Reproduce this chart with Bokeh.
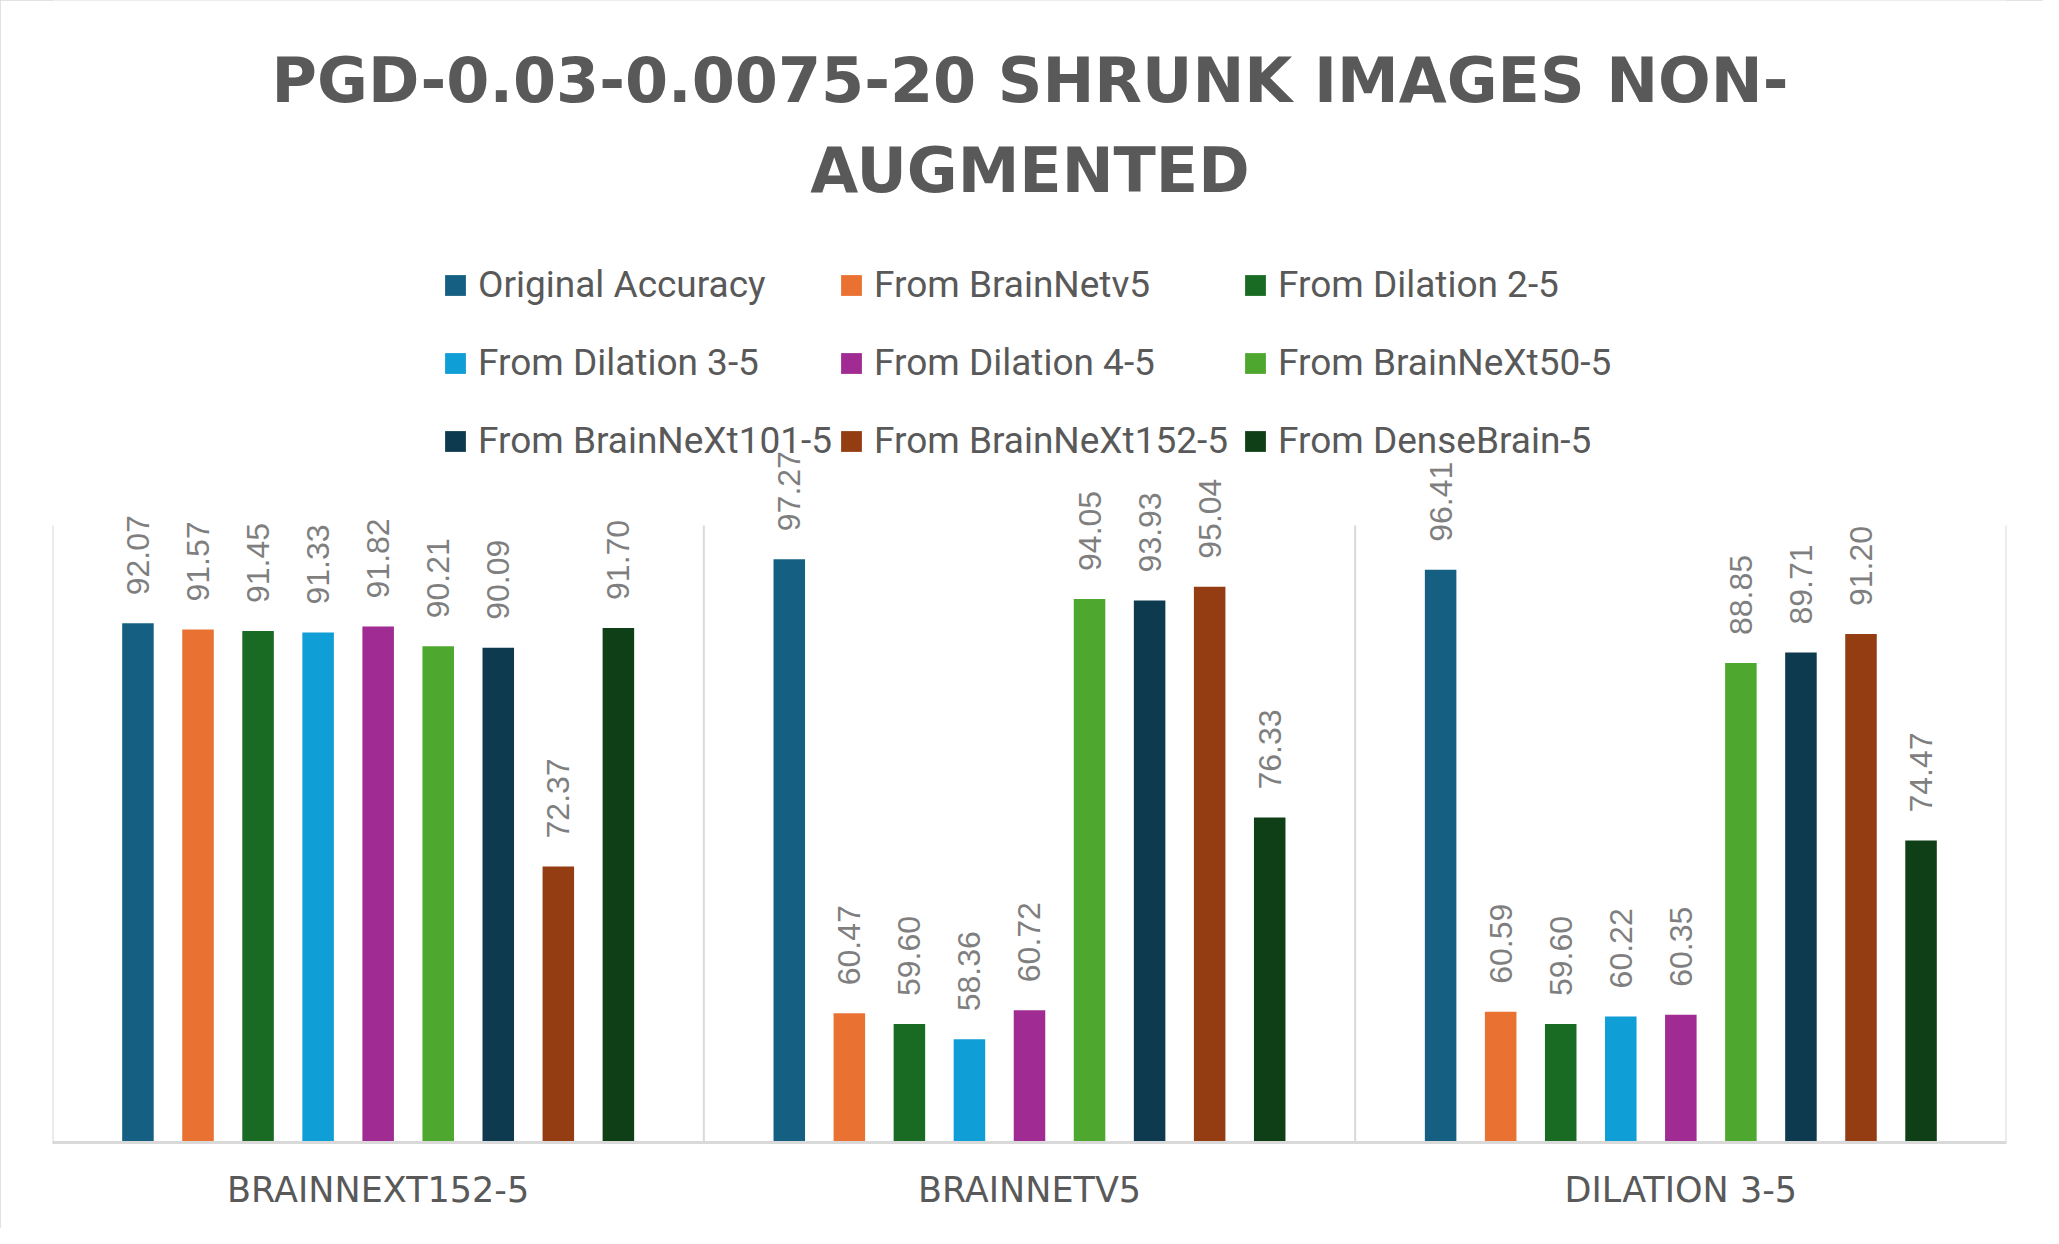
import math
from bokeh.plotting import figure
from bokeh.models import (ColumnDataSource, Range1d, FactorRange, Label,
                          LabelSet, Legend, LegendItem)
from bokeh.core.properties import value
from bokeh.transform import dodge
from bokeh.embed import file_html
from bokeh.resources import INLINE

# ---------------- data ----------------
categories = ["BRAINNEXT152-5", "BRAINNETV5", "DILATION 3-5"]
series_names = ["Original Accuracy", "From BrainNetv5", "From Dilation 2-5",
                "From Dilation 3-5", "From Dilation 4-5", "From BrainNeXt50-5",
                "From BrainNeXt101-5", "From BrainNeXt152-5", "From DenseBrain-5"]
original_accuracy = [92.07, 97.27, 96.41]
from_brainnetv5 = [91.57, 60.47, 60.59]
from_dilation_2_5 = [91.45, 59.60, 59.60]
from_dilation_3_5 = [91.33, 58.36, 60.22]
from_dilation_4_5 = [91.82, 60.72, 60.35]
from_brainnext50_5 = [90.21, 94.05, 88.85]
from_brainnext101_5 = [90.09, 93.93, 89.71]
from_brainnext152_5 = [72.37, 95.04, 91.20]
from_densebrain_5 = [91.70, 76.33, 74.47]
series_values = [original_accuracy, from_brainnetv5, from_dilation_2_5,
                 from_dilation_3_5, from_dilation_4_5, from_brainnext50_5,
                 from_brainnext101_5, from_brainnext152_5, from_densebrain_5]
colors = ["#156082", "#E97132", "#196B24", "#0F9ED5", "#A02B93", "#4EA72E",
          "#0E3A50", "#953D12", "#0F3F17"]
title_lines = ["PGD-0.03-0.0075-20 SHRUNK IMAGES NON-", "AUGMENTED"]
y_min, y_max = 50, 100

# ---------------- layout ----------------
W, H = 2043, 1228
plot_h = 617          # height of the value area (y_min..y_max) in px
head_h = 525          # space above the value area for title and legend
bottom_b = 86
px_per_unit = plot_h / (y_max - y_min)
y_top = y_max + head_h / px_per_unit

p = figure(x_range=FactorRange(factors=categories, range_padding=0),
           y_range=Range1d(y_min, y_top),
           width=W, height=H, output_backend="svg", toolbar_location=None,
           min_border_left=52, min_border_right=37, min_border_top=0,
           min_border_bottom=bottom_b, y_axis_location=None)
p.xgrid.visible = False
p.ygrid.visible = False
p.outline_line_color = None
p.background_fill_color = "white"
p.border_fill_color = "white"
p.styles = {"outline": "3px solid #d9d9d9", "outline-offset": "-3px"}

xa = p.xaxis[0]
xa.axis_line_color = "#d9d9d9"
xa.axis_line_width = 3
xa.major_tick_line_color = None
xa.minor_tick_line_color = None
xa.major_label_text_font = "DejaVu Sans"
xa.major_label_text_font_size = "35px"
xa.major_label_text_color = "#595959"
xa.major_label_standoff = 21

# category separators (value area only)
bounds = list(range(len(categories) + 1))
p.segment(x0=bounds, y0=[y_min] * len(bounds), x1=bounds, y1=[y_max] * len(bounds),
          line_color="#d9d9d9", line_width=2)

n = len(series_names)
slot = 0.0922
bar_w = 0.0484
renderers = []
for j, (name, vals, col) in enumerate(zip(series_names, series_values, colors)):
    src = ColumnDataSource(dict(cat=categories, val=vals,
                                lab=[f"{v:.2f}" for v in vals]))
    off = (j - (n - 1) / 2) * slot
    r = p.vbar(x=dodge("cat", off, range=p.x_range), top="val", bottom=y_min,
               width=bar_w, fill_color=col, line_color=None, source=src)
    renderers.append(r)
    ls = LabelSet(x=dodge("cat", off, range=p.x_range), y="val", text="lab",
                  source=src, angle=math.pi / 2, text_align="left",
                  text_baseline="middle", y_offset=28,
                  text_font=value("Liberation Sans"), text_font_size="32px",
                  text_color="#7f7f7f")
    p.add_layout(ls)

# legend: three columns
col_x = [390, 786, 1190]
for c in range(3):
    items = [LegendItem(label=series_names[k], renderers=[renderers[k]])
             for k in range(c, n, 3)]
    lg = Legend(items=items, location=(col_x[c], 680), orientation="vertical",
                label_text_font="Roboto", label_text_font_size="37px",
                label_text_color="#595959", glyph_width=26, glyph_height=26,
                label_standoff=10, spacing=35, padding=0, margin=0,
                border_line_color=None, background_fill_alpha=0)
    p.add_layout(lg)

# title
title_y = [1062, 972]
for t, yy in zip(title_lines, title_y):
    p.add_layout(Label(x=977.5, y=yy, x_units="screen", y_units="screen", text=t,
                       text_align="center", text_baseline="alphabetic",
                       text_font="DejaVu Sans", text_font_style="bold",
                       text_font_size="62px", text_color="#595959"))

open("out.html", "w").write(file_html(p, INLINE))
